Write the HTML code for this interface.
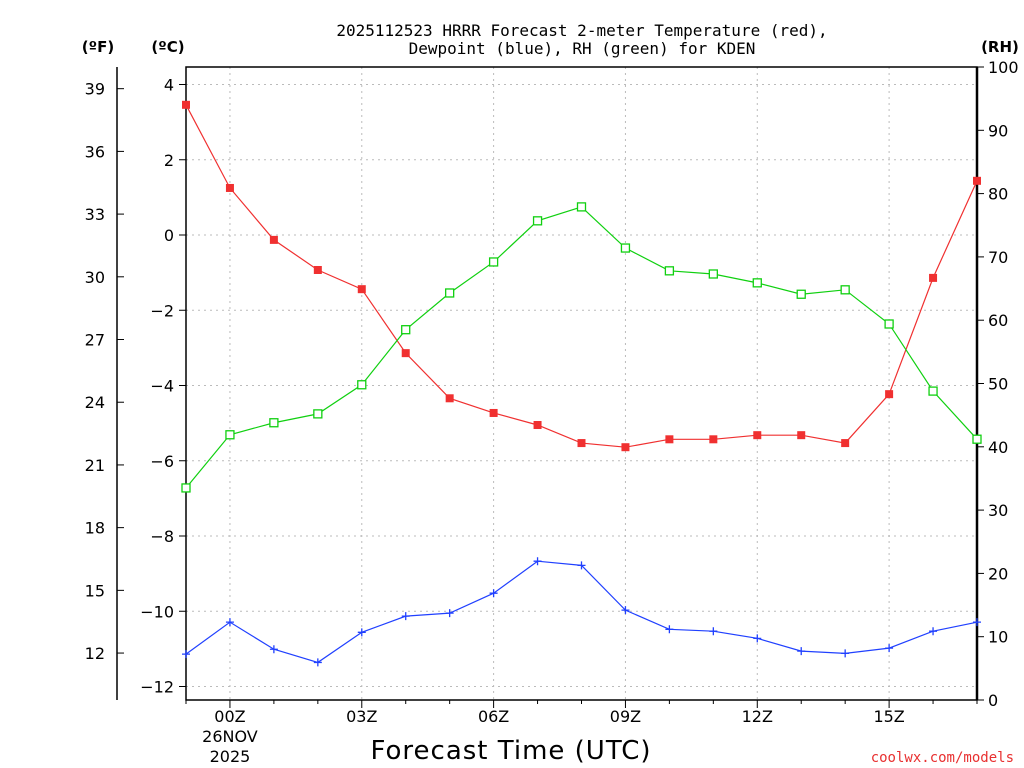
<!DOCTYPE html>
<html><head><meta charset="utf-8"><style>
body{margin:0;background:#fff;}
svg{display:block;font-family:"DejaVu Sans","Liberation Sans",sans-serif;}
</style></head><body>
<svg id="c" width="1024" height="768">
<text x="582" y="36" text-anchor="middle" font-family="DejaVu Sans Mono,Liberation Mono,monospace" font-size="16">2025112523 HRRR Forecast 2-meter Temperature (red),</text>
<text x="582" y="54" text-anchor="middle" font-family="DejaVu Sans Mono,Liberation Mono,monospace" font-size="16">Dewpoint (blue), RH (green) for KDEN</text>
<text x="98" y="52" text-anchor="middle" font-size="15" font-weight="bold">(ºF)</text>
<text x="168" y="52" text-anchor="middle" font-size="15" font-weight="bold">(ºC)</text>
<text x="1000" y="52" text-anchor="middle" font-size="15" font-weight="bold">(RH)</text>
<text x="511" y="759" text-anchor="middle" font-size="26" letter-spacing="1">Forecast Time (UTC)</text>
<text x="1014" y="762" text-anchor="end" font-family="DejaVu Sans Mono,Liberation Mono,monospace" font-size="14" fill="#e83030">coolwx.com/models</text>
<g id="grid"></g><g id="axes"></g><g id="series"></g>
</svg>
<script>
const hours=["23Z","00Z","01Z","02Z","03Z","04Z","05Z","06Z","07Z","08Z","09Z","10Z","11Z","12Z","13Z","14Z","15Z","16Z","17Z"];
const tempC=[3.46,1.25,-0.13,-0.93,-1.44,-3.14,-4.34,-4.73,-5.05,-5.53,-5.64,-5.43,-5.43,-5.32,-5.32,-5.53,-4.23,-1.14,1.44];
const dewC=[-11.14,-10.29,-11.01,-11.36,-10.56,-10.13,-10.05,-9.52,-8.67,-8.78,-9.97,-10.48,-10.53,-10.72,-11.06,-11.12,-10.98,-10.53,-10.29];
const rh=[33.5,41.9,43.8,45.2,49.8,58.5,64.3,69.2,75.7,77.9,71.4,67.8,67.3,65.9,64.1,64.8,59.4,48.8,41.2];
const cTicks=[4,2,0,-2,-4,-6,-8,-10,-12];
const fTicks=[39,36,33,30,27,24,21,18,15,12];
const rhTicks=[0,10,20,30,40,50,60,70,80,90,100];
const xLabelIdx=[1,4,7,10,13,16];
const NS="http://www.w3.org/2000/svg";
const X0=186,X1=977,Y0=67,Y1=700;
const xs=i=>X0+i*(X1-X0)/(hours.length-1);
const yc=c=>235-c*37.625;
const yf=f=>yc((f-32)/1.8);
const yr=r=>Y1-r*(Y1-Y0)/100;
function mk(tag,at,par,txt){const e=document.createElementNS(NS,tag);for(const k in at)e.setAttribute(k,at[k]);if(txt!==undefined)e.textContent=txt;document.getElementById(par).appendChild(e);return e;}
cTicks.forEach(c=>{const e=mk('line',{x1:X0,x2:X1,y1:yc(c),y2:yc(c),stroke:'#bbb','stroke-dasharray':'2,4'},'grid');

});
xLabelIdx.forEach(i=>{const e=mk('line',{x1:xs(i),x2:xs(i),y1:Y0,y2:Y1,stroke:'#bbb','stroke-dasharray':'2,4'},'grid');

});
let f=mk('rect',{x:X0,y:Y0,width:X1-X0,height:Y1-Y0,fill:'none',stroke:'#000','stroke-width':1.5},'axes');


f=mk('line',{x1:X1,x2:X1,y1:Y0,y2:Y1,stroke:'#000','stroke-width':2.5},'axes');


f=mk('line',{x1:117,x2:117,y1:Y0,y2:Y1,stroke:'#000','stroke-width':1.5},'axes');


cTicks.forEach(c=>{mk('line',{x1:X0-7,x2:X0,y1:yc(c),y2:yc(c),stroke:'#000'},'axes');
const t=mk('text',{x:174,y:yc(c)+6,'text-anchor':'end','font-size':16},'axes',c<0?'\u2212'+(-c):c);

});
fTicks.forEach(v=>{mk('line',{x1:117,x2:124,y1:yf(v),y2:yf(v),stroke:'#000'},'axes');
const t=mk('text',{x:105,y:yf(v)+6,'text-anchor':'end','font-size':16},'axes',v);

});
rhTicks.forEach(v=>{mk('line',{x1:X1,x2:X1+7,y1:yr(v),y2:yr(v),stroke:'#000'},'axes');
const t=mk('text',{x:988,y:yr(v)+6,'font-size':16},'axes',v);

});
hours.forEach((h,i)=>{mk('line',{x1:xs(i),x2:xs(i),y1:Y1,y2:Y1+(xLabelIdx.includes(i)?8:4),stroke:'#000'},'axes');});
xLabelIdx.forEach(i=>{const t=mk('text',{x:xs(i),y:722,'text-anchor':'middle','font-size':16},'axes',hours[i]);

});
[["26NOV",742],["2025",762]].forEach(d=>{const t=mk('text',{x:xs(1),y:d[1],'text-anchor':'middle','font-size':16},'axes',d[0]);

});
function line(vals,yfn,col,name){const p=mk('polyline',{points:vals.map((v,i)=>xs(i)+','+yfn(v)).join(' '),fill:'none',stroke:col,'stroke-width':1.2},'series');

}
line(tempC,yc,'#f03030','temperature-line');
line(dewC,yc,'#2040ff','dewpoint-line');
line(rh,yr,'#10d010','rh-line');
tempC.forEach((v,i)=>{const r=mk('rect',{x:xs(i)-4,y:yc(v)-4,width:8,height:8,fill:'#f03030'},'series');

});
rh.forEach((v,i)=>{const r=mk('rect',{x:xs(i)-4,y:yr(v)-4,width:8,height:8,fill:'#fff',stroke:'#10d010','stroke-width':1.3},'series');

});
dewC.forEach((v,i)=>{const x=xs(i),y=yc(v);const p=mk('path',{d:`M${x-4},${y}H${x+4}M${x},${y-4}V${y+4}`,stroke:'#2040ff','stroke-width':1.3},'series');

});
</script>
</body></html>
